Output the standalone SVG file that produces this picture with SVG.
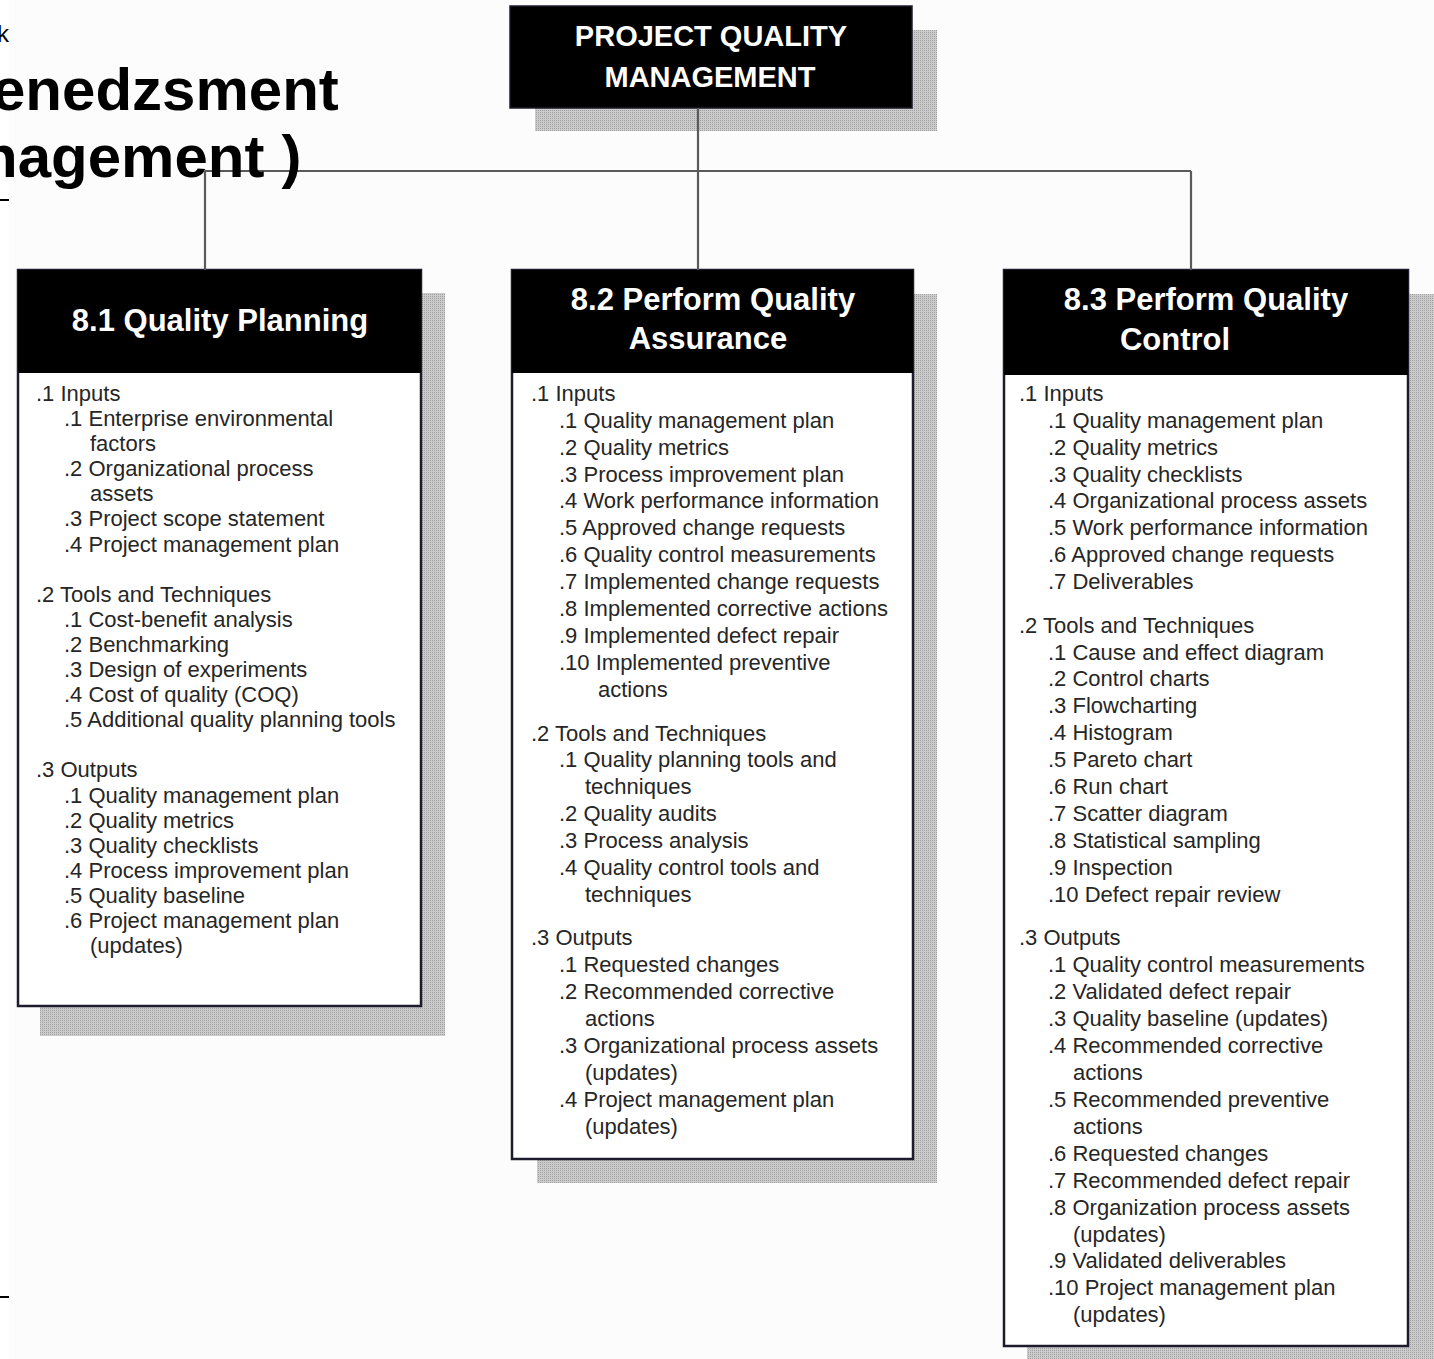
<svg xmlns="http://www.w3.org/2000/svg" width="1434" height="1359" viewBox="0 0 1434 1359">
<style>
.shadow{fill:url(#dots);}
.box{fill:#ffffff;stroke:#1c1c2c;stroke-width:2.5;}
.head{fill:#000000;}
.title{font-family:"Liberation Sans",Arial,sans-serif;font-weight:bold;fill:#ffffff;text-anchor:middle;}
.body{font-family:"Liberation Sans",Arial,sans-serif;font-size:22px;fill:#262626;}
.conn{fill:none;stroke:#5a5a5a;stroke-width:2.2;}
.slide{font-family:"Liberation Sans",Arial,sans-serif;font-weight:bold;fill:#000000;}
</style>
<defs>
<pattern id="dots" width="2" height="2" patternUnits="userSpaceOnUse">
<rect width="2" height="2" fill="#cbcbcb"/>
<rect width="1" height="1" fill="#a2a2a2"/>
</pattern>
</defs>
<rect x="0" y="0" width="1434" height="1359" fill="#ffffff"/>
<rect x="9" y="0" width="1425" height="1359" fill="#fcfcfc"/>

<g id="node-root">
<rect class="shadow" x="535" y="30" width="402" height="101"/>
<rect x="510" y="6" width="402" height="102" fill="#000000" stroke="#1c1c2c" stroke-width="1.5"/>
<text class="title" font-size="29" x="711" y="46">PROJECT QUALITY</text>
<text class="title" font-size="29" x="710" y="87">MANAGEMENT</text>
</g>

<g id="node-8-1">
<rect class="shadow" x="40" y="293" width="405" height="743"/>
<rect class="box" x="18" y="270" width="403" height="736"/>
<rect class="head" x="18" y="270" width="403" height="103"/>
<text class="title" font-size="31" x="220" y="331">8.1 Quality Planning</text>
<text class="body">
<tspan x="36" y="401">.1 Inputs</tspan>
<tspan x="64" y="426">.1 Enterprise environmental</tspan>
<tspan x="90" y="451">factors</tspan>
<tspan x="64" y="476">.2 Organizational process</tspan>
<tspan x="90" y="501">assets</tspan>
<tspan x="64" y="526">.3 Project scope statement</tspan>
<tspan x="64" y="552">.4 Project management plan</tspan>
<tspan x="36" y="602">.2 Tools and Techniques</tspan>
<tspan x="64" y="627">.1 Cost-benefit analysis</tspan>
<tspan x="64" y="652">.2 Benchmarking</tspan>
<tspan x="64" y="677">.3 Design of experiments</tspan>
<tspan x="64" y="702">.4 Cost of quality (COQ)</tspan>
<tspan x="64" y="727">.5 Additional quality planning tools</tspan>
<tspan x="36" y="777">.3 Outputs</tspan>
<tspan x="64" y="803">.1 Quality management plan</tspan>
<tspan x="64" y="828">.2 Quality metrics</tspan>
<tspan x="64" y="853">.3 Quality checklists</tspan>
<tspan x="64" y="878">.4 Process improvement plan</tspan>
<tspan x="64" y="903">.5 Quality baseline</tspan>
<tspan x="64" y="928">.6 Project management plan</tspan>
<tspan x="90" y="953">(updates)</tspan>
</text>
</g>

<g id="node-8-2">
<rect class="shadow" x="537" y="294" width="400" height="889"/>
<rect class="box" x="512" y="270" width="401" height="889"/>
<rect class="head" x="512" y="270" width="401" height="103"/>
<text class="title" font-size="31" x="713" y="310">8.2 Perform Quality</text>
<text class="title" font-size="31" x="708" y="349">Assurance</text>
<text class="body">
<tspan x="531" y="401">.1 Inputs</tspan>
<tspan x="559" y="428">.1 Quality management plan</tspan>
<tspan x="559" y="455">.2 Quality metrics</tspan>
<tspan x="559" y="482">.3 Process improvement plan</tspan>
<tspan x="559" y="508">.4 Work performance information</tspan>
<tspan x="559" y="535">.5 Approved change requests</tspan>
<tspan x="559" y="562">.6 Quality control measurements</tspan>
<tspan x="559" y="589">.7 Implemented change requests</tspan>
<tspan x="559" y="616">.8 Implemented corrective actions</tspan>
<tspan x="559" y="643">.9 Implemented defect repair</tspan>
<tspan x="559" y="670">.10 Implemented preventive</tspan>
<tspan x="598" y="697">actions</tspan>
<tspan x="531" y="741">.2 Tools and Techniques</tspan>
<tspan x="559" y="767">.1 Quality planning tools and</tspan>
<tspan x="585" y="794">techniques</tspan>
<tspan x="559" y="821">.2 Quality audits</tspan>
<tspan x="559" y="848">.3 Process analysis</tspan>
<tspan x="559" y="875">.4 Quality control tools and</tspan>
<tspan x="585" y="902">techniques</tspan>
<tspan x="531" y="945">.3 Outputs</tspan>
<tspan x="559" y="972">.1 Requested changes</tspan>
<tspan x="559" y="999">.2 Recommended corrective</tspan>
<tspan x="585" y="1026">actions</tspan>
<tspan x="559" y="1053">.3 Organizational process assets</tspan>
<tspan x="585" y="1080">(updates)</tspan>
<tspan x="559" y="1107">.4 Project management plan</tspan>
<tspan x="585" y="1134">(updates)</tspan>
</text>
</g>

<g id="node-8-3">
<rect class="shadow" x="1027" y="294" width="420" height="1080"/>
<rect class="box" x="1004" y="270" width="404" height="1076"/>
<rect class="head" x="1004" y="270" width="404" height="105"/>
<text class="title" font-size="31" x="1206" y="310">8.3 Perform Quality</text>
<text class="title" font-size="31" x="1175" y="350">Control</text>
<text class="body">
<tspan x="1019" y="401">.1 Inputs</tspan>
<tspan x="1048" y="428">.1 Quality management plan</tspan>
<tspan x="1048" y="455">.2 Quality metrics</tspan>
<tspan x="1048" y="482">.3 Quality checklists</tspan>
<tspan x="1048" y="508">.4 Organizational process assets</tspan>
<tspan x="1048" y="535">.5 Work performance information</tspan>
<tspan x="1048" y="562">.6 Approved change requests</tspan>
<tspan x="1048" y="589">.7 Deliverables</tspan>
<tspan x="1019" y="633">.2 Tools and Techniques</tspan>
<tspan x="1048" y="660">.1 Cause and effect diagram</tspan>
<tspan x="1048" y="686">.2 Control charts</tspan>
<tspan x="1048" y="713">.3 Flowcharting</tspan>
<tspan x="1048" y="740">.4 Histogram</tspan>
<tspan x="1048" y="767">.5 Pareto chart</tspan>
<tspan x="1048" y="794">.6 Run chart</tspan>
<tspan x="1048" y="821">.7 Scatter diagram</tspan>
<tspan x="1048" y="848">.8 Statistical sampling</tspan>
<tspan x="1048" y="875">.9 Inspection</tspan>
<tspan x="1048" y="902">.10 Defect repair review</tspan>
<tspan x="1019" y="945">.3 Outputs</tspan>
<tspan x="1048" y="972">.1 Quality control measurements</tspan>
<tspan x="1048" y="999">.2 Validated defect repair</tspan>
<tspan x="1048" y="1026">.3 Quality baseline (updates)</tspan>
<tspan x="1048" y="1053">.4 Recommended corrective</tspan>
<tspan x="1073" y="1080">actions</tspan>
<tspan x="1048" y="1107">.5 Recommended preventive</tspan>
<tspan x="1073" y="1134">actions</tspan>
<tspan x="1048" y="1161">.6 Requested changes</tspan>
<tspan x="1048" y="1188">.7 Recommended defect repair</tspan>
<tspan x="1048" y="1215">.8 Organization process assets</tspan>
<tspan x="1073" y="1242">(updates)</tspan>
<tspan x="1048" y="1268">.9 Validated deliverables</tspan>
<tspan x="1048" y="1295">.10 Project management plan</tspan>
<tspan x="1073" y="1322">(updates)</tspan>
</text>
</g>

<g id="connectors">
<path class="conn" d="M698,108 V270"/>
<path class="conn" d="M205,171 H1191"/>
<path class="conn" d="M205,171 V270"/>
<path class="conn" d="M1191,171 V270"/>
</g>

<g id="slide-remnant">
<text class="slide" font-size="24" x="-3" y="42" style="font-weight:normal">k</text>
<text class="slide" font-size="60" x="-8" y="110">enedzsment</text>
<text class="slide" font-size="60" x="-19" y="177">nagement<tspan dx="17">)</tspan></text>
<rect x="0" y="199" width="9" height="2" fill="#000000"/>
<rect x="0" y="1296" width="9" height="2" fill="#000000"/>
</g>
</svg>
